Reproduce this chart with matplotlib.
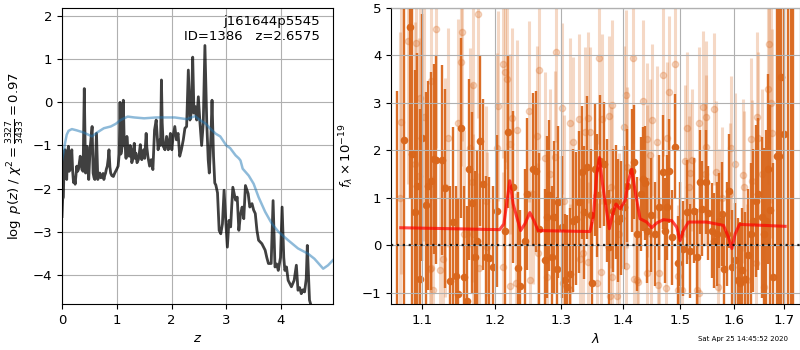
import matplotlib
matplotlib.use('Agg')
import matplotlib.pyplot as plt
from matplotlib.ticker import NullLocator, FixedLocator, FixedFormatter

# ---- left panel: log p(z) and scaled chi2 ----
pdf_z = [0.0, 0.012, 0.025, 0.04, 0.056, 0.07, 0.086, 0.10, 0.117, 0.13, 0.148, 0.165, 0.179,
         0.195, 0.21, 0.225, 0.24, 0.255, 0.27, 0.285, 0.30, 0.318, 0.333, 0.35, 0.364, 0.385,
         0.407, 0.43, 0.445, 0.457, 0.47, 0.488, 0.505, 0.52, 0.55, 0.568, 0.585, 0.60, 0.63,
         0.654, 0.67, 0.69, 0.71, 0.735, 0.75, 0.765, 0.78, 0.796, 0.81, 0.827, 0.845, 0.858,
         0.875, 0.889, 0.91, 0.938, 0.96, 0.98, 1.0, 1.025, 1.045, 1.06, 1.075, 1.09, 1.105,
         1.12, 1.137, 1.154, 1.17, 1.185, 1.205, 1.228, 1.245, 1.26, 1.275, 1.29, 1.305, 1.32,
         1.335, 1.35, 1.37, 1.395, 1.41, 1.43, 1.445, 1.457, 1.475, 1.49, 1.51, 1.537, 1.55,
         1.568, 1.60, 1.63, 1.66, 1.69, 1.72, 1.755, 1.77, 1.785, 1.80, 1.816, 1.83, 1.85, 1.88,
         1.91, 1.94, 1.957, 1.98, 2.006, 2.03, 2.06, 2.09, 2.12, 2.15, 2.18, 2.215, 2.245,
         2.276, 2.307, 2.337, 2.36, 2.387, 2.41, 2.435, 2.46, 2.49, 2.52, 2.55, 2.58, 2.61,
         2.644, 2.67, 2.69, 2.72, 2.74, 2.767, 2.79, 2.81, 2.84, 2.87, 2.90, 2.93, 2.96, 2.99,
         3.02, 3.05, 3.08, 3.10, 3.12, 3.17, 3.20, 3.23, 3.26, 3.29, 3.32, 3.35, 3.40, 3.43,
         3.47, 3.50, 3.53, 3.56, 3.59, 3.65, 3.71, 3.74, 3.77, 3.82, 3.855, 3.89, 3.92, 3.95,
         3.99, 4.02, 4.05, 4.07, 4.10, 4.13, 4.19, 4.24, 4.28, 4.31, 4.34, 4.37, 4.40, 4.43,
         4.46, 4.48, 4.52, 4.55, 4.60, 4.65, 4.70, 4.75, 4.80, 4.85, 4.90, 4.95]
pdf_logp = [-2.65, -2.25, -2.2, -1.3, -1.1, -1.55, -1.79, -1.2, -1.02, -1.6, -1.56, -1.3, -1.1,
            -1.6, -1.86, -1.75, -1.9, -1.7, -1.48, -1.6, -1.56, -1.4, -1.25, -1.45, -1.56, -1.6,
            0.32, -1.64, -1.3, -1.02, -1.5, -1.79, -1.3, -0.98, -0.56, -1.64, -1.75, -1.79, -0.72,
            -1.79, -1.7, -1.64, -1.75, -1.72, -1.65, -1.79, -1.7, -1.64, -1.55, -1.48, -1.3, -1.1,
            -1.5, -1.64, -1.7, -1.72, -1.65, -1.6, -1.55, -1.48, -1.2, 0.0, -1.2, -1.1, -0.9,
            0.05, -1.0, -1.02, -1.3, -0.79, -1.1, -1.25, -1.0, -1.1, -1.4, -1.33, -1.1, -0.95,
            -1.3, -1.18, -1.4, -1.33, -1.2, -0.98, -1.25, -1.33, -1.2, -1.1, -1.3, -0.72, -1.05,
            -1.25, -1.48, -1.33, -1.56, -0.64, -0.41, -1.1, -0.95, -0.87, -1.0, 0.52, -0.48, -1.02,
            -1.1, -0.79, -1.1, -0.95, -0.72, -1.1, -0.79, -0.56, -0.87, -0.72, -1.25, -1.1,
            -0.87, -0.6, -0.56, 0.75, -0.41, -0.25, 1.05, -0.25, -0.1, -0.41, 0.13, -0.48, -1.0,
            -0.48, 1.32, -0.48, -1.33, -1.64, -0.79, 0.05, -1.25, -1.87, -1.92, -2.1, -2.97,
            -3.05, -2.82, -2.04, -2.74, -3.36, -2.74, -2.89, -2.4, -1.97, -2.27, -2.2, -2.97, -2.6,
            -2.43, -2.7, -1.93, -2.12, -2.43, -2.35, -2.5, -2.58, -2.97, -3.2, -3.28, -3.43, -3.6,
            -3.74, -3.74, -2.28, -3.82, -3.75, -3.9, -3.6, -2.43, -3.6, -3.9, -3.82, -4.13, -4.28,
            -4.13, -3.78, -4.36, -4.3, -4.44, -4.35, -4.4, -4.1, -3.32, -4.59, -4.72, -4.75, -4.8,
            -4.72, -4.75, -4.9, -4.72, -4.8, -4.72]

chi_z = [0.0, 0.025, 0.055, 0.086, 0.12, 0.18, 0.27, 0.395, 0.55, 0.64, 0.765, 0.89, 0.98,
         1.07, 1.2, 1.32, 1.5, 1.72, 2.06, 2.28, 2.43, 2.52, 2.63, 2.7, 2.81, 2.89, 3.0, 3.07,
         3.17, 3.23, 3.26, 3.30, 3.41, 3.5, 3.59, 3.71, 3.83, 3.95, 4.13, 4.31, 4.49, 4.61, 4.77,
         4.86, 4.95]
chi_val = [-1.35, -1.18, -0.95, -0.75, -0.66, -0.62, -0.65, -0.7, -0.79, -0.7, -0.6, -0.56, -0.5,
           -0.41, -0.33, -0.35, -0.37, -0.35, -0.35, -0.39, -0.32, -0.41, -0.5, -0.6, -0.73,
           -0.79, -1.0, -1.06, -1.23, -1.3, -1.35, -1.54, -1.7, -1.89, -2.2, -2.54, -2.81, -3.0,
           -3.2, -3.39, -3.51, -3.63, -3.86, -3.78, -3.66]

# ---- right panel: spectrum ----
dark_wave = [1.0675, 1.0755, 1.0833, 1.0869, 1.0898, 1.0929, 1.0965, 1.1000, 1.1044, 1.1080,
             1.1120, 1.1155, 1.1187, 1.1263, 1.1303, 1.1377, 1.1412, 1.1459, 1.1482, 1.1528,
             1.1570, 1.1607, 1.1635, 1.1682, 1.1719, 1.1747, 1.1786, 1.1838, 1.1880, 1.1918,
             1.1976, 1.2033, 1.2150, 1.2194, 1.2267, 1.2337, 1.2367, 1.2441, 1.2476,
             1.2566, 1.2617, 1.2657, 1.2745, 1.2770, 1.2811, 1.2848, 1.2883, 1.2925, 1.2950,
             1.3003, 1.3055, 1.3092, 1.3134, 1.3187, 1.3229, 1.3282, 1.3321, 1.3357, 1.3411,
             1.3466, 1.3487, 1.3536, 1.3563, 1.3617, 1.3683, 1.3728, 1.3770, 1.3827, 1.3882,
             1.3920, 1.3960, 1.4016, 1.4072, 1.4147, 1.4185, 1.4232, 1.4300, 1.4345, 1.4380,
             1.4414, 1.4473, 1.4549, 1.4625, 1.4685, 1.4725, 1.4766,
             1.4796, 1.4854, 1.4903, 1.4951, 1.4993, 1.5053, 1.5115, 1.5174, 1.5253, 1.5308,
             1.5358, 1.5400, 1.5463, 1.5513, 1.5575, 1.5625, 1.5670, 1.5712, 1.5764, 1.5813,
             1.5859, 1.5908, 1.5960, 1.6018, 1.6070, 1.6115, 1.6160, 1.6212, 1.6277, 1.6331,
             1.6375, 1.6430, 1.6474, 1.6542, 1.6595, 1.6628, 1.6675, 1.6715, 1.6775, 1.6844,
             1.6891, 1.6932, 1.7000, 1.7070, 1.7137, 1.7185]
dark_flux = [-1.5, 2.22, 4.6, 1.92, 0.70, 1.26, -0.72, 2.27, 0.84, 1.26,
             1.36, 1.82, 1.80, 1.80, 1.20, -0.75, 0.49, -0.65, -1.03, 2.47,
             -0.66, -1.17, 1.60, 0.90, -0.24, 0.10, 2.20, 1.29, -0.24, -0.26,
             -0.45, 0.73, 0.31, 2.38, 1.22, -0.48, -0.86, 0.10, 1.08,
             1.60, 1.56, 0.35, -0.31, 0.60, 1.05, -0.24, 0.60, -0.49, 0.91,
             0.38, -0.73, -0.87, -0.61, 0.52, 0.56, 0.91, 1.54, 0.70, 1.64,
             0.63, -0.80, 1.60, 1.05, 1.77, 1.71, 0.94, -0.03, 0.73, 0.91,
             0.52, 0.57, 0.80, 1.26, 1.57, 1.75, 0.24, 1.08, 1.40, 1.31,
             0.31, 0.63, 0.24, 0.80, 1.54, 0.31, 0.80,
             1.57, 0.17, 2.08, -0.38, 0.24, -0.07, 0.70, -0.12, 0.73, -0.24,
             1.33, 0.77, 1.33, 0.68, 0.31, 0.10, 0.24, 0.52, 0.66, -0.49,
             0.24, 1.14, -0.45, -0.31, -0.73, -0.80, -0.52, -0.70, -0.21, 0.24,
             0.52, 0.94, 1.08, 0.59, 0.24, 0.52, 1.60, 0.75, -0.66, 1.89,
             1.89, 3.55, 2.34, 5.5, 8.0, -2.0]
dark_err = [4.75, 3.8, 3.6, 3.5, 3.0, 2.8, 3.6, 2.6, 2.4, 2.2,
            2.3, 2.0, 2.2, 2.0, 2.1, 2.0, 2.0, 1.9, 2.0, 1.9,
            1.9, 2.0, 1.9, 1.9, 1.8, 1.9, 1.8, 1.8, 1.7, 1.7,
            1.7, 1.6, 1.7, 1.6, 1.6, 1.6, 1.6, 1.5, 1.6,
            1.6, 1.7, 1.6, 1.5, 1.7, 1.6, 1.5, 1.6, 1.5, 1.6,
            1.5, 1.4, 1.5, 1.4, 1.5, 1.4, 1.5, 1.4, 1.4, 1.5,
            1.4, 1.3, 1.4, 1.3, 1.4, 1.3, 1.3, 1.2, 1.3, 1.2,
            1.3, 1.2, 1.3, 1.2, 1.3, 1.2, 1.2, 1.2, 1.1, 1.2,
            1.1, 1.2, 1.1, 1.1, 1.2, 1.1, 1.1,
            1.1, 1.0, 1.1, 1.0, 1.1, 1.0, 1.1, 1.0, 1.1, 1.0,
            1.1, 1.0, 1.1, 1.0, 1.0, 1.0, 1.1, 1.0, 1.1, 1.1,
            1.1, 1.2, 1.2, 1.2, 1.3, 1.3, 1.3, 1.4, 1.4, 1.5,
            1.5, 1.6, 1.6, 1.7, 1.8, 1.9, 2.0, 2.2, 2.4, 5.0,
            5.0, 5.0, 5.0, 7.0, 10.0, 8.0]

# faint (second) spectrum: high, mid and low groups of points
light_wave = [1.0710, 1.0720, 1.0810, 1.0898, 1.0913, 1.0960, 1.0974, 1.1018, 1.1098, 1.1110,
              1.1115, 1.1142, 1.1177, 1.1231, 1.1277, 1.1299, 1.1345, 1.1482, 1.1519, 1.1542,
              1.1558, 1.1644, 1.1682, 1.1690, 1.1691, 1.1761, 1.1770, 1.1879, 1.1885, 1.2025,
              1.2048, 1.2119, 1.2120, 1.2145, 1.2179, 1.2218, 1.2219, 1.2253, 1.2317, 1.2327,
              1.2508, 1.2516, 1.2561, 1.2628, 1.2642, 1.2660, 1.2745, 1.2771, 1.2824, 1.2898,
              1.2914, 1.3012, 1.3028, 1.3034, 1.3135, 1.3140, 1.3187, 1.3282, 1.3295, 1.3335,
              1.3372, 1.3426, 1.3430, 1.3453, 1.3565, 1.3606, 1.3634, 1.3655, 1.3770, 1.3775,
              1.3796, 1.3808, 1.3823, 1.3904, 1.3925, 1.4016, 1.4049, 1.4058, 1.4067, 1.4173,
              1.4180, 1.4236, 1.4259, 1.4335, 1.4404, 1.4410, 1.4412, 1.4462, 1.4480, 1.4490,
              1.4590, 1.4607, 1.4615, 1.4685, 1.4750, 1.4766, 1.4796, 1.4903, 1.4951, 1.4953,
              1.5035, 1.5083, 1.5126, 1.5159, 1.5174, 1.5206, 1.5297, 1.5340, 1.5346, 1.5419,
              1.5459, 1.5463, 1.5470, 1.5625, 1.5657, 1.5701, 1.5707, 1.5773, 1.5922, 1.5932,
              1.6018, 1.6180, 1.6185, 1.6245, 1.6331, 1.6345, 1.6423, 1.6456, 1.6462, 1.6542,
              1.6595, 1.6675, 1.6695, 1.6728, 1.6755]
light_flux = [1.0, 2.6, 4.3, 1.71, 4.27, 1.47, 3.10, 2.70, -0.49, -0.47,
              3.46, -0.94, 4.55, -0.51, -0.28, 1.22, 2.27, 2.57, 3.87, 4.50,
              0.24, 2.06, 1.33, 0.24, 3.38, 4.88, -0.47, 0.94, -0.03, 2.06,
              2.93, -0.45, 3.83, 3.65, 3.50, 2.13, -0.86, 2.68, -0.79, 2.42,
              2.82, -0.73, 1.08, 2.31, -0.17, 3.69, 1.85, -0.66, 1.50, 1.87,
              4.07, 2.89, -0.80, 0.94, -0.94, 2.57, 2.17, 2.66, -0.28, -0.17,
              2.38, -0.36, 2.69, 2.38, -0.80, 3.94, -0.56, 2.66, 2.72, -1.07,
              1.22, 2.95, -0.66, -1.07, 0.24, 2.50, 3.16, -0.44, 1.64, 3.95,
              -0.70, -0.73, -0.77, 3.04, 2.24, -0.58, 1.36, 1.90, 0.24, 2.64,
              2.17, -0.84, -0.59, 3.59, -0.91, 2.27, 3.23, 3.83, -0.65, -0.94,
              -0.94, 1.78, 2.47, 1.22, 1.52, 1.80, -0.94, 2.58, -1.01, 2.92,
              1.50, 2.71, 2.08, 2.87, 1.55, -0.87, 0.52, 1.00, 1.08, 2.06,
              1.71, 1.48, 1.22, -0.73, 2.24, 1.36, -0.38, 2.70, 2.27, 1.50,
              -0.87, 3.29, 4.25, 2.99, 2.36]
light_err = [3.5, 3.2, 3.0, 3.0, 3.0, 2.9, 2.8, 2.6, 2.5, 2.5,
             2.5, 2.4, 2.5, 2.3, 2.3, 2.3, 2.3, 2.2, 2.2, 2.3,
             2.2, 2.1, 2.1, 2.1, 2.1, 2.2, 2.0, 2.0, 2.0, 2.0,
             2.0, 2.0, 2.0, 1.9, 1.9, 1.9, 1.9, 1.9, 1.9, 1.9,
             1.9, 1.9, 1.9, 1.9, 1.9, 1.9, 1.8, 1.8, 1.8, 1.8,
             1.9, 1.8, 1.8, 1.8, 1.8, 1.8, 1.8, 1.8, 1.7, 1.7,
             1.8, 1.7, 1.8, 1.8, 1.7, 1.8, 1.7, 1.8, 1.7, 1.7,
             1.7, 1.8, 1.7, 1.7, 1.7, 1.7, 1.8, 1.7, 1.7, 1.8,
             1.6, 1.6, 1.6, 1.7, 1.6, 1.6, 1.6, 1.6, 1.6, 1.6,
             1.6, 1.6, 1.6, 1.7, 1.6, 1.6, 1.6, 1.7, 1.5, 1.5,
             1.5, 1.6, 1.6, 1.5, 1.5, 1.5, 1.5, 1.6, 1.5, 1.6,
             1.5, 1.6, 1.5, 1.6, 1.5, 1.5, 1.5, 1.5, 1.5, 1.5,
             1.5, 1.6, 1.6, 1.6, 1.7, 1.7, 1.7, 1.8, 1.8, 1.8,
             1.9, 2.0, 2.1, 2.1, 2.2]

model_wave = [1.0717, 1.207, 1.2132, 1.2219, 1.2268, 1.2378, 1.2442, 1.2517, 1.2578, 1.2643,
              1.3455, 1.351, 1.3565, 1.3608, 1.3652, 1.3717, 1.3772, 1.3828, 1.3883, 1.3951,
              1.4035, 1.4091, 1.4148, 1.4205, 1.429, 1.4405, 1.4492, 1.4579, 1.4697, 1.4846,
              1.4935, 1.4995, 1.5055, 1.5146, 1.5483, 1.5798, 1.5893, 1.5957, 1.6021, 1.6105,
              1.6577, 1.7013]
model_flux = [0.37, 0.33, 0.45, 1.36, 0.87, 0.31, 0.45, 0.69, 0.52, 0.31,
              0.29, 0.6, 1.5, 1.85, 1.36, 0.8, 0.35, 0.66, 0.87, 0.77,
              0.94, 1.36, 1.6, 1.15, 0.56, 0.49, 0.37, 0.47, 0.54, 0.52,
              0.38, 0.1, 0.31, 0.49, 0.49, 0.42, 0.17, -0.07, 0.24, 0.44,
              0.42, 0.40]

wave_ticks = [1.1, 1.2, 1.3, 1.4, 1.5, 1.6, 1.7]

plt.rcParams['font.size'] = 9.5

fig = plt.figure(figsize=(8, 3.5), dpi=100)
ax1 = fig.add_axes([0.0775, 0.1314, 0.3388, 0.8457])
ax2 = fig.add_axes([0.4888, 0.1314, 0.5106, 0.8457])

ax1.plot(pdf_z, pdf_logp, color='k', alpha=0.75, lw=2)
ax1.plot(chi_z, chi_val, color='tab:blue', alpha=0.5, lw=1.8)
ax1.set_xlim(0, 4.95)
ax1.set_ylim(-4.68, 2.19)
ax1.set_xticks([0, 1, 2, 3, 4])
ax1.set_yticks([-4, -3, -2, -1, 0, 1, 2])
ax1.grid()
ax1.set_xlabel('$z$')
ax1.set_ylabel(r'$\log\ p(z)$ / $\chi^2=\frac{3327}{3433}=0.97$')
ax1.text(0.95, 0.975, 'j161644p5545\nID=1386   z=2.6575', ha='right', va='top',
         transform=ax1.transAxes)

orange = '#d9661b'
ax2.errorbar(light_wave, light_flux, yerr=light_err, fmt='o', color=orange, alpha=0.25,
             ms=4.5, elinewidth=2.2, capsize=0, zorder=1)
ax2.errorbar(dark_wave, dark_flux, yerr=dark_err, fmt='o', color=orange, alpha=0.95,
             ms=4.5, elinewidth=1.7, capsize=0, zorder=2)
ax2.plot(model_wave, model_flux, color='r', alpha=0.7, lw=2.2, zorder=3)
ax2.axhline(0, color='k', ls=':', lw=1.6, alpha=0.85, zorder=4)

ax2.set_xscale('log')
ax2.set_xlim(1.0593, 1.731)
ax2.set_ylim(-1.237, 5)
ax2.xaxis.set_major_locator(FixedLocator(wave_ticks))
ax2.xaxis.set_major_formatter(FixedFormatter([str(w) for w in wave_ticks]))
ax2.xaxis.set_minor_locator(NullLocator())
ax2.set_axisbelow(False)
ax2.grid()
ax2.set_xlabel(r'$\lambda$')
ax2.set_ylabel(r'$f_\lambda\times10^{-19}$')

fig.text(0.985, 0.022, 'Sat Apr 25 14:45:52 2020', ha='right', va='bottom', fontsize=5)

fig.savefig('out.png', dpi=100)
